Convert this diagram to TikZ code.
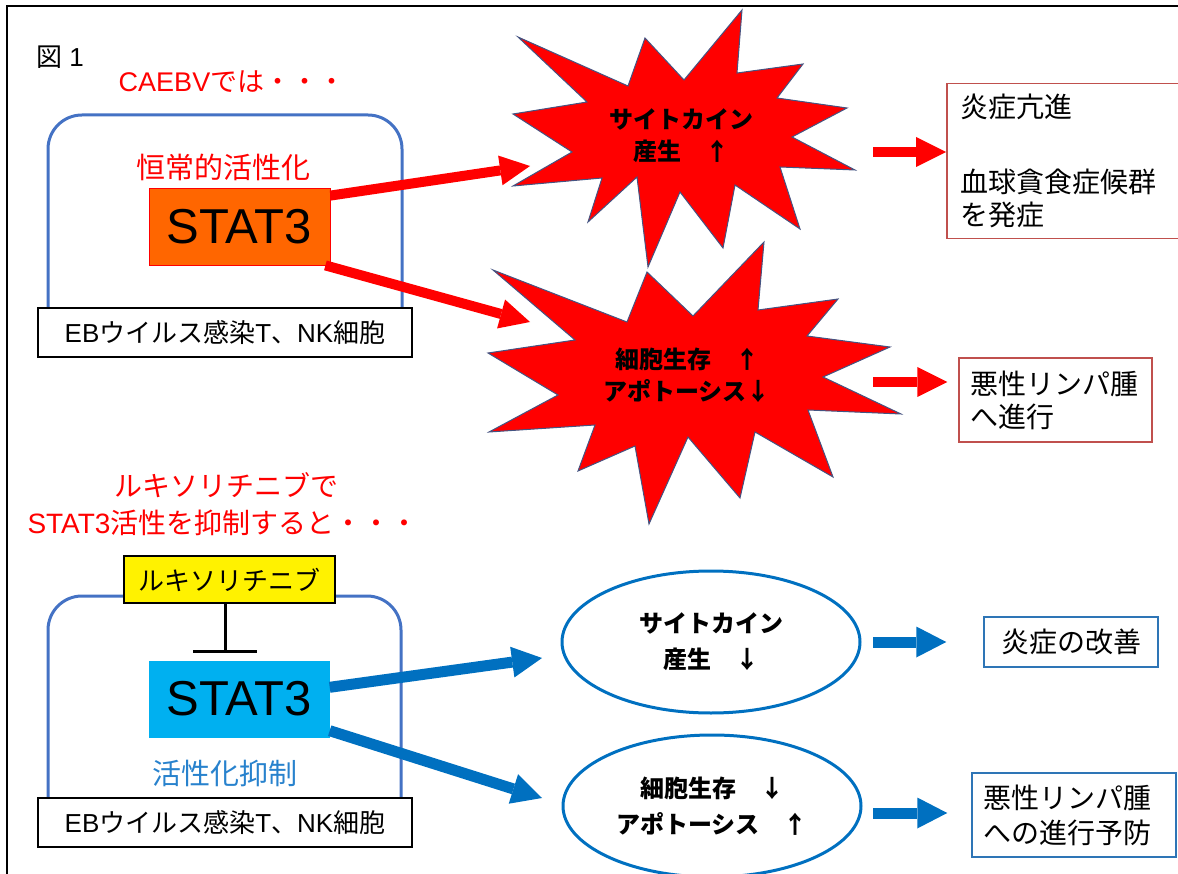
\documentclass[tikz,border=0pt]{standalone}
\usepackage{fontspec}
\setmainfont{Liberation Sans}
\newfontfamily\cjk{Noto Sans CJK JP}
\usetikzlibrary{arrows.meta,shapes.geometric}
\newcommand{\setfs}[2]{\fontsize{#1}{#2}\selectfont}
\definecolor{orangeS}{RGB}{255,102,0}
\definecolor{cellblue}{RGB}{68,114,196}
\definecolor{arrblue}{RGB}{0,112,192}
\definecolor{cyanS}{RGB}{0,176,240}
\definecolor{boxred}{RGB}{192,80,77}
\definecolor{boxblue}{RGB}{46,117,182}
\definecolor{txtblue}{RGB}{40,130,205}
\definecolor{staredge}{RGB}{68,84,130}
\tikzset{
  redarrow/.style={draw=red, line width=10pt, -{Triangle[length=30pt,width=30pt,line width=0pt]}},
  bluearrow/.style={draw=arrblue, line width=11pt, -{Triangle[length=30pt,width=31pt,line width=0pt]}},
  cellwall/.style={draw=cellblue, line width=3pt, rounded corners=34pt},
  ebbox/.style={draw=black, fill=white, line width=1.5pt, minimum width=374pt, minimum height=49pt, inner sep=0pt},
  statbox/.style={minimum width=181pt, minimum height=77pt, inner sep=0pt, font=\setfs{49}{49}},
  starshape/.style={fill=red, draw=staredge, line width=1pt, line join=miter},
  startext/.style={align=center, font=\cjk\bfseries\setfs{24}{32}},
  ellnode/.style={ellipse, draw=arrblue, line width=3pt, minimum width=298pt, minimum height=142pt, inner sep=0pt, align=center, font=\cjk\bfseries\setfs{24}{36}},
  resbox/.style={line width=1.5pt, align=left, inner sep=0pt, font=\cjk\setfs{28}{33}},
  redtitle/.style={text=red, inner sep=0pt}
}
\begin{document}
\begin{tikzpicture}[x=1pt,y=-1pt]
\useasboundingbox (0,0) rectangle (1178,874);
\clip (0,0) rectangle (1178,874);
\draw[line width=2pt] (7,6) rectangle (1200,900);

% ---------- top part ----------
\node[anchor=west, inner sep=0pt] (fig) at (36,57) {\setfs{26}{26}{\cjk 図} 1};
\node[redtitle] (caebv) at (232,82) {\setfs{27}{27}CAEBV{\cjk では・・・}};

\draw[cellwall] (48,320) -- (48,115) -- (402,115) -- (402,320);
\node[redtitle] (const) at (223,167) {\cjk\setfs{29}{29}恒常的活性化};
\node[statbox, draw=red, line width=0.8pt, fill=orangeS] (stat1) at (239.5,226.5) {STAT3};
\node[ebbox] (eb1) at (225,332.5) {\setfs{26}{26}EB{\cjk ウイルス感染}T{\cjk 、}NK{\cjk 細胞}};

% stars
\draw[starshape] (742,10) -- (737,73) -- (803,64) -- (777,98) -- (847,108) -- (792,137) -- (855,170) -- (780,167) -- (800,229) -- (735,185) -- (723,248) -- (680,192) -- (648,267) -- (637,177) -- (588,222) -- (602,178) -- (513,186) -- (572,152) -- (513,114) -- (587,102) -- (518,37) -- (628,86) -- (645,38) -- (684,80) -- cycle;
\draw[starshape] (764,242) -- (758,310) -- (838,299) -- (807,336) -- (890,347) -- (823,377) -- (901,414) -- (808,410) -- (833,477) -- (755,432) -- (740,498) -- (688,437) -- (649,524) -- (635,446) -- (578,471) -- (595,425) -- (489,432) -- (558,395) -- (488,353) -- (575,340) -- (493,270) -- (627,322) -- (647,272) -- (693,316) -- cycle;
\node[startext] (star1) at (681,136) {サイトカイン\\産生　↑};
\node[startext] (star2) at (687,375) {細胞生存　↑\\アポトーシス↓};

\coordinate (s1in) at (530,166);
\coordinate (s2in) at (530,322);
\draw[redarrow] ([yshift=-8pt]stat1.north east) -- (s1in);
\draw[redarrow] ([xshift=-5pt]stat1.south east) -- (s2in);

% result boxes (red)
\node[resbox, draw=boxred, anchor=north west, minimum width=260pt, minimum height=155pt, text width=236pt, inner xsep=14pt] (res1) at (946,83)
  {炎症亢進\\[42pt]血球貪食症候群\\を発症};
\node[resbox, draw=boxred, minimum width=193pt, minimum height=84pt, text width=170pt] (res2) at (1055.5,400)
  {悪性リンパ腫\\へ進行};
\coordinate (r1s) at (873,152);
\coordinate (r2s) at (873,382);
\draw[redarrow] (r1s) -- (r1s -| res1.west);
\draw[redarrow] (r2s) -- ([xshift=-11pt]res2.west |- r2s);

% ---------- bottom part ----------
\node[redtitle] (rux1) at (226,485) {\cjk\setfs{28}{28}ルキソリチニブで};
\node[redtitle] (rux2) at (223,523) {\setfs{28}{28}STAT3{\cjk 活性を抑制すると・・・}};

\draw[cellwall] (48,815) -- (48,596) -- (401,596) -- (401,815);
\node[draw=black, fill=yellow, line width=1.5pt, minimum width=211pt, minimum height=47pt, inner sep=0pt] (ruxbox) at (229.5,579.5) {\cjk\setfs{26}{26}ルキソリチニブ};
\coordinate (inh) at (225,651);
\draw[line width=3pt] (inh |- ruxbox.south) -- (inh);
\draw[line width=3pt] ([xshift=-32pt]inh) -- ([xshift=32pt]inh);

\node[statbox, fill=cyanS] (stat2) at (239,699) {STAT3};
\node[inner sep=0pt, text=txtblue] (supp) at (225,773) {\cjk\setfs{29}{29}活性化抑制};
\node[ebbox] (eb2) at (225,822.5) {\setfs{26}{26}EB{\cjk ウイルス感染}T{\cjk 、}NK{\cjk 細胞}};

\node[ellnode] (ell1) at (711,642) {サイトカイン\\産生　↓};
\node[ellnode] (ell2) at (712,806) {細胞生存　↓\\アポトーシス　↑};

\coordinate (e1in) at (542,658);
\coordinate (e2in) at (542,798);
\draw[bluearrow] ([yshift=-27pt]stat2.north east) -- (e1in);
\draw[bluearrow] ([yshift=7pt]stat2.south east) -- (e2in);

\node[resbox, draw=boxblue, minimum width=174pt, minimum height=50pt] (res3) at (1071,642) {炎症の改善};
\node[resbox, draw=boxblue, minimum width=204pt, minimum height=84pt, text width=182pt, font=\cjk\setfs{28}{35}] (res4) at (1074,815) {悪性リンパ腫\\への進行予防};
\coordinate (b1s) at (873,642);
\coordinate (b2s) at (873,813);
\draw[bluearrow] (b1s) -- ([xshift=-37pt]res3.west |- b1s);
\draw[bluearrow] (b2s) -- ([xshift=-24pt]res4.west |- b2s);
\end{tikzpicture}
\end{document}
